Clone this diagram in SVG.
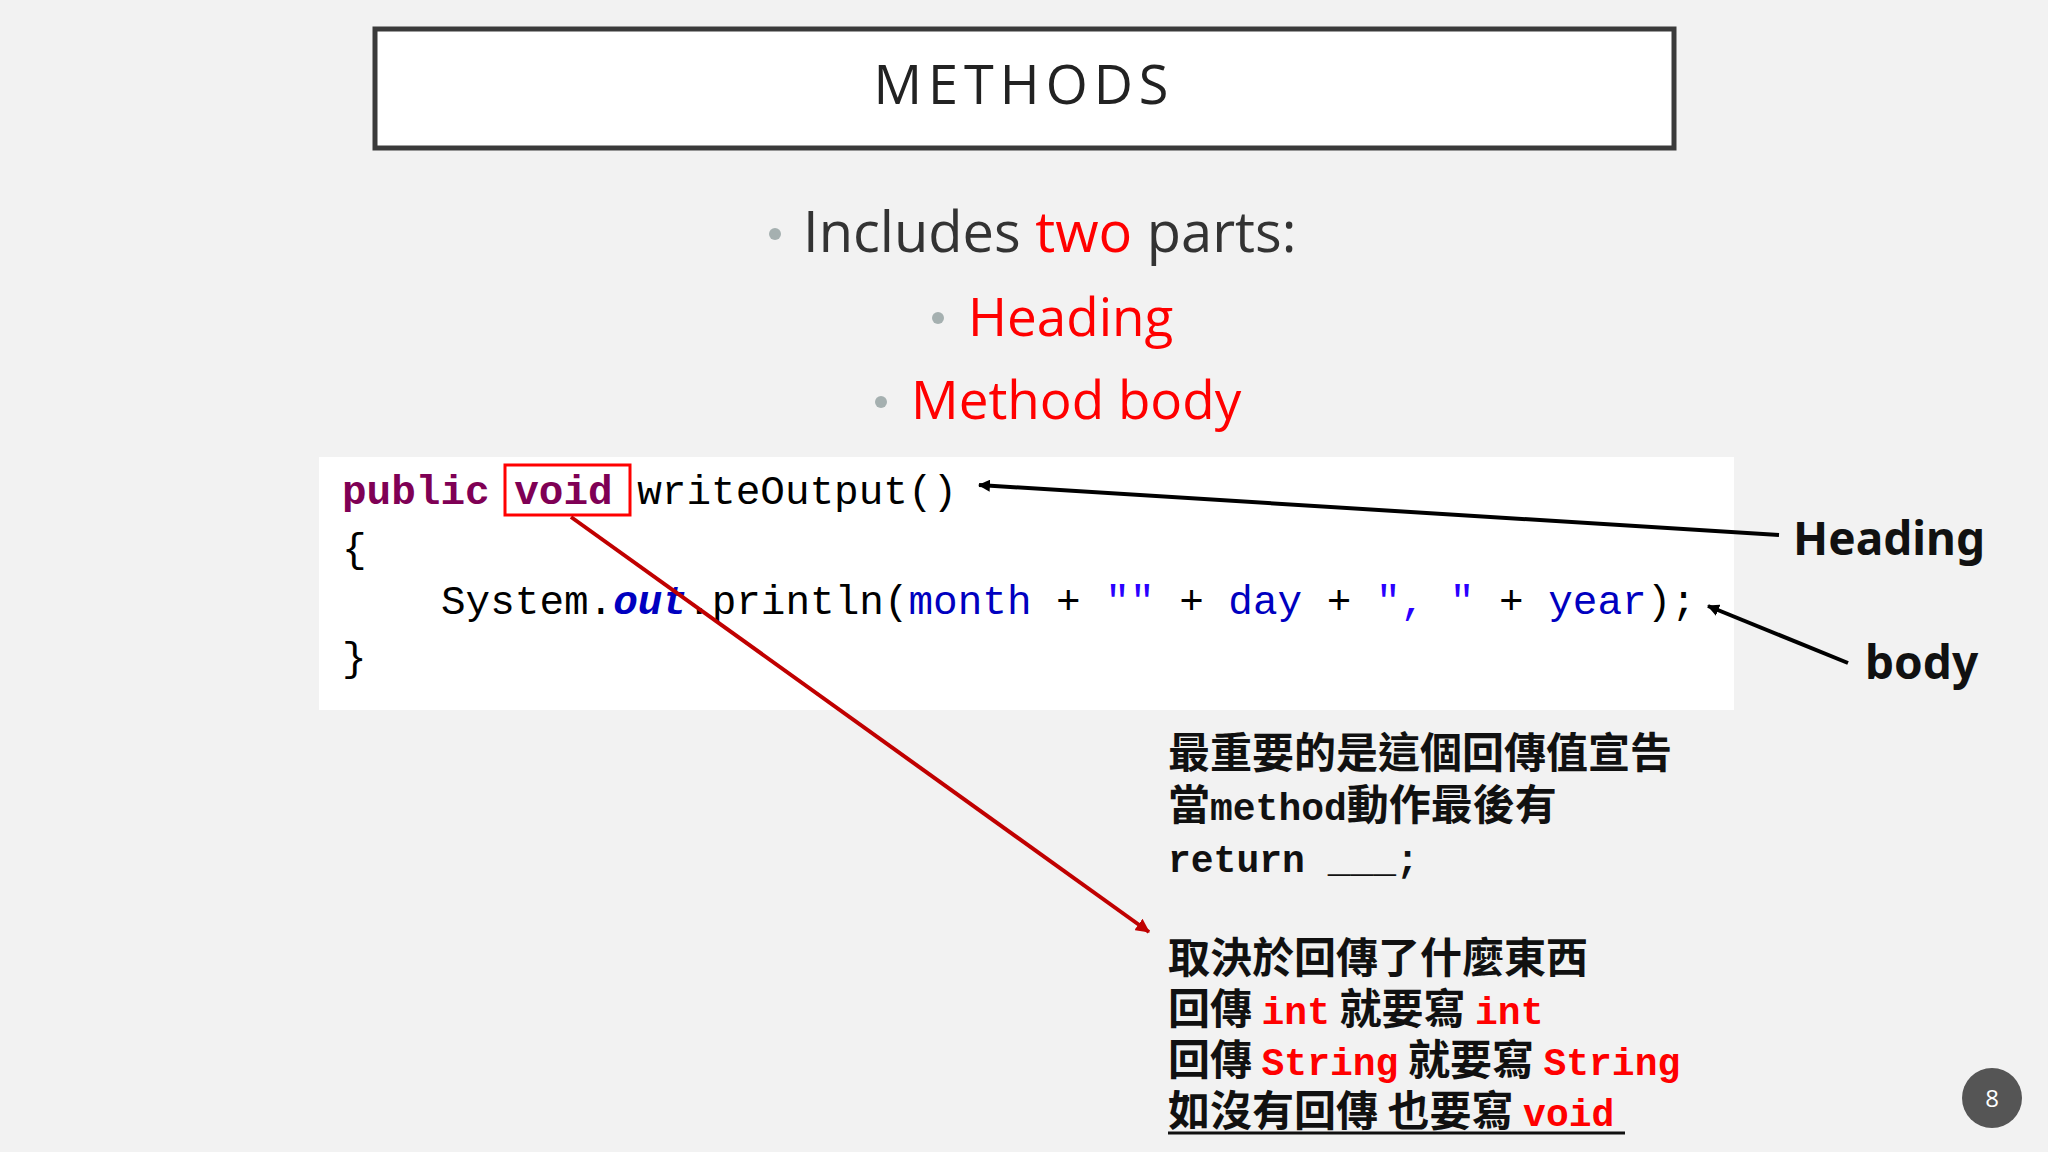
<svg xmlns="http://www.w3.org/2000/svg" width="2048" height="1152" viewBox="0 0 2048 1152">
<defs>
<style>
.sans{font-family:"Source Sans Pro","Open Sans","Noto Sans",sans-serif}
.code{font-family:"Liberation Mono",monospace;font-size:41px}
.kw{fill:#7f0055;font-weight:bold}
.fld{fill:#0000c0}
.str{fill:#2a00ff}
.cn{font-family:"Noto Sans CJK TC",monospace;font-size:42px;font-weight:bold;fill:#111}
.m{font-family:"Liberation Mono",monospace;font-size:38px}
.red{fill:#ff0000}
.lbl{font-family:"Noto Sans","Open Sans",sans-serif;font-weight:bold;font-size:46px;fill:#111}
</style>
<marker id="ab" markerWidth="12" markerHeight="12" refX="11" refY="6" orient="auto" markerUnits="userSpaceOnUse" viewBox="0 0 12 12"><path d="M0,0 L12,6 L0,12 z" fill="#000"/></marker>
<marker id="ar" markerWidth="14" markerHeight="14" refX="13" refY="7" orient="auto" markerUnits="userSpaceOnUse" viewBox="0 0 14 14"><path d="M0,0 L14,7 L0,14 z" fill="#c00000"/></marker>
</defs>
<rect width="2048" height="1152" fill="#f2f2f2"/>
<g id="title">
<rect x="375" y="29" width="1299" height="119" fill="#fff" stroke="#3a3a3a" stroke-width="5"/>
<text x="1024" y="104" text-anchor="middle" class="sans" font-size="54" letter-spacing="6" fill="#222">METHODS</text>
</g>
<g id="bullets" class="sans">
<circle cx="775" cy="234" r="6" fill="#a5b0b0"/>
<text x="803" y="252" font-size="56" fill="#333">Includes <tspan fill="#f00">two</tspan> parts:</text>
<circle cx="938" cy="318" r="6" fill="#a5b0b0"/>
<text x="968" y="336" font-size="53" fill="#f00">Heading</text>
<circle cx="881" cy="402" r="6" fill="#a5b0b0"/>
<text x="911" y="419" font-size="53" fill="#f00">Method body</text>
</g>
<g id="code">
<rect x="319" y="457" width="1415" height="253" fill="#fff"/>
<text class="code" x="342" y="504"><tspan class="kw">public</tspan> <tspan class="kw">void</tspan> writeOutput()</text>
<text class="code" x="342" y="562">{</text>
<text class="code" x="441" y="614">System.<tspan class="fld" font-weight="bold" font-style="italic">out</tspan>.println(<tspan class="fld">month</tspan> + <tspan class="str">""</tspan> + <tspan class="fld">day</tspan> + <tspan class="str">", "</tspan> + <tspan class="fld">year</tspan>);</text>
<text class="code" x="342" y="671">}</text>
<rect x="505" y="465" width="125" height="50" fill="none" stroke="#f00" stroke-width="3"/>
</g>
<g id="connectors">
<line x1="1779" y1="535" x2="979" y2="485" stroke="#000" stroke-width="4" marker-end="url(#ab)"/>
<line x1="1848" y1="663" x2="1708" y2="606" stroke="#000" stroke-width="4" marker-end="url(#ab)"/>
<line x1="571" y1="517" x2="1149" y2="932" stroke="#c00000" stroke-width="4" marker-end="url(#ar)"/>
</g>
<g id="labels">
<text class="lbl" x="1793" y="555">Heading</text>
<text class="lbl" x="1865" y="679">body</text>
</g>
<g id="note1" class="cn">
<text x="1168" y="768">最重要的是這個回傳值宣告</text>
<text x="1168" y="820">當<tspan class="m">method</tspan>動作最後有</text>
<text x="1168" y="872" class="m">return ___;</text>
</g>
<g id="note2" class="cn">
<text x="1168" y="973">取決於回傳了什麼東西</text>
<text x="1168" y="1024">回傳 <tspan class="m red">int</tspan> 就要寫 <tspan class="m red">int</tspan></text>
<text x="1168" y="1075">回傳 <tspan class="m red">String</tspan> 就要寫 <tspan class="m red">String</tspan></text>
<text x="1168" y="1126">如沒有回傳 也要寫 <tspan class="m red">void</tspan></text>
<line x1="1168" y1="1133" x2="1625" y2="1133" stroke="#111" stroke-width="3"/>
</g>
<g id="page">
<circle cx="1992" cy="1098" r="30" fill="#555"/>
<text x="1992" y="1107" text-anchor="middle" class="sans" font-size="24" fill="#fff">8</text>
</g>
</svg>
